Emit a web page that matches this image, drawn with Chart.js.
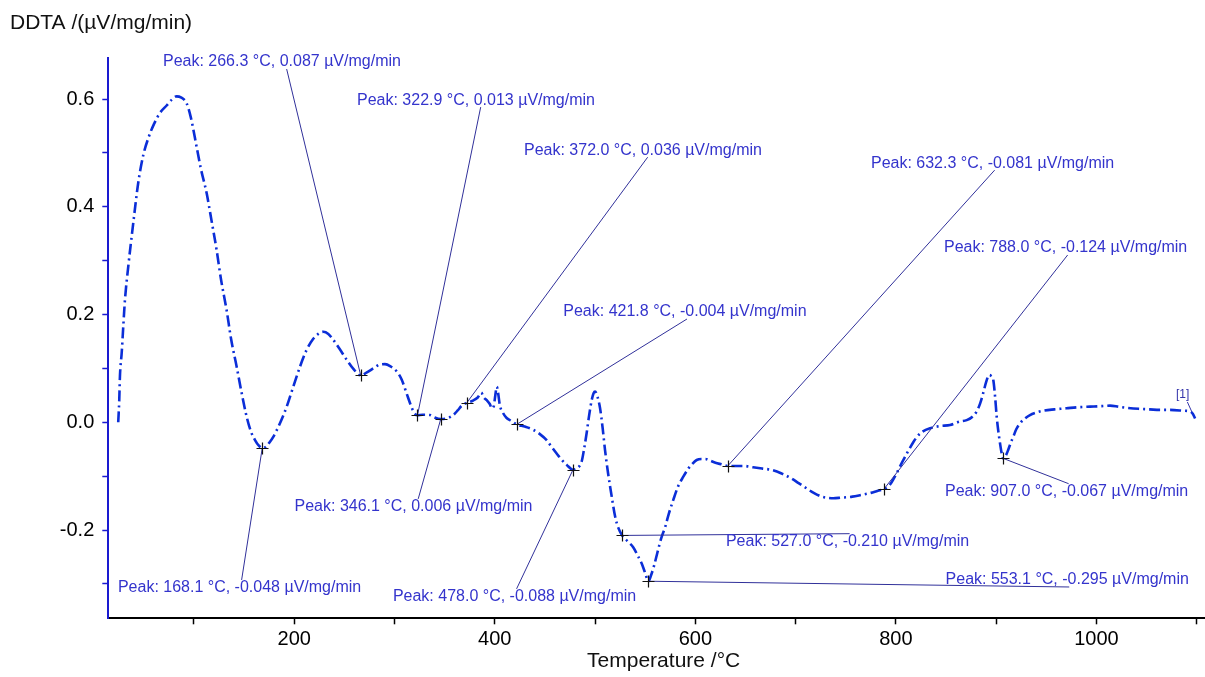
<!DOCTYPE html>
<html><head><meta charset="utf-8">
<script src="https://cdn.jsdelivr.net/npm/chart.js@4.4.0/dist/chart.umd.min.js"></script>
<style>html,body{margin:0;padding:0;background:#fff}#wrap{width:1205px;height:677px}</style>
</head><body><div id="wrap"><canvas id="c" width="1205" height="677"></canvas></div>
<script>
// ---- data ----
const temperature = [24.5,25.5,26.2,28,29.5,31.2,34.5,39.5,44.5,49.5,55,60,66,72.8,78,82.8,87,92.7,97,102.7,107,112.7,117,122.6,127,132.6,137,142.6,147,152.6,157,160.9,164.5,168.1,172,175.5,179.1,185,192.5,198,205.7,212,219,224,229,234,239,245,252.3,259,266.3,272,278.8,285,290.5,296,302,307,312,316,319.5,322.9,328,335.4,340,346.1,352,358.6,363,367,372,378,383,386.5,389,392,395,397,399,400.5,402,403.5,405,408,411.8,416,421.8,430,438.4,445,451.7,456,461.7,466,471.7,478,483,486.6,489,491.6,494,496.6,498.5,500,502,504.9,507.5,509.9,513,516.6,520,523.2,527,532,538,543,546.5,550,553.1,556,559,562,566,569.8,573.5,578,583,588,593,597,601.3,606,610,614.6,620,626,632.3,640,647.8,657.5,667,676.4,686,695.5,703,710.8,718,726,731,737.5,745,756.6,765,775,782,788,794,800,806,812,817,821,826,834,844,854,863,870.6,876,880.5,884,887,890,893,895,897.1,899,900.5,902,903.8,905.5,907,909.5,912,914.5,917,920,923.7,928,933.7,940,947,958,970,982,993.5,1005,1013.5,1022,1030,1042,1053,1063,1073,1086.6,1093.3,1096,1098.3];
const ddta = [0.000,0.040,0.085,0.130,0.177,0.227,0.289,0.370,0.445,0.496,0.530,0.553,0.574,0.588,0.599,0.605,0.603,0.592,0.565,0.511,0.470,0.425,0.380,0.320,0.265,0.208,0.155,0.103,0.060,0.010,-0.018,-0.033,-0.043,-0.048,-0.045,-0.037,-0.027,-0.005,0.029,0.060,0.103,0.133,0.155,0.164,0.168,0.164,0.153,0.137,0.116,0.099,0.087,0.092,0.100,0.107,0.108,0.104,0.095,0.080,0.054,0.033,0.018,0.013,0.014,0.0135,0.009,0.006,0.007,0.0135,0.022,0.031,0.036,0.040,0.046,0.055,0.046,0.041,0.034,0.026,0.030,0.050,0.066,0.052,0.032,0.018,0.008,0.003,-0.004,-0.008,-0.014,-0.022,-0.033,-0.044,-0.058,-0.068,-0.079,-0.088,-0.084,-0.073,-0.050,-0.020,0.012,0.041,0.054,0.057,0.050,0.027,-0.010,-0.051,-0.095,-0.138,-0.175,-0.196,-0.210,-0.220,-0.232,-0.249,-0.262,-0.280,-0.295,-0.283,-0.265,-0.243,-0.215,-0.195,-0.170,-0.144,-0.118,-0.101,-0.086,-0.077,-0.070,-0.068,-0.068,-0.071,-0.075,-0.078,-0.081,-0.081,-0.081,-0.0835,-0.086,-0.0885,-0.095,-0.104,-0.113,-0.1225,-0.131,-0.138,-0.140,-0.141,-0.140,-0.138,-0.135,-0.131,-0.127,-0.124,-0.116,-0.097,-0.075,-0.054,-0.038,-0.027,-0.018,-0.011,-0.007,-0.005,0.001,0.004,0.010,0.020,0.035,0.054,0.075,0.088,0.086,0.0785,0.045,0.010,-0.015,-0.039,-0.058,-0.067,-0.062,-0.051,-0.038,-0.027,-0.013,-0.002,0.006,0.0135,0.018,0.0215,0.024,0.026,0.028,0.029,0.030,0.031,0.029,0.027,0.025,0.024,0.023,0.023,0.0215,0.020,0.016,0.007];

const peakTemps  = [168.1, 266.3, 322.9, 346.1, 372.0, 421.8, 478.0, 527.0, 553.1, 632.3, 788.0, 907.0];
const peakValues = [-0.048, 0.087, 0.013, 0.006, 0.036, -0.004, -0.088, -0.210, -0.295, -0.081, -0.124, -0.067];
// where each peak label sits (left edge in °C, vertical centre in µV/mg/min)
const labelTemps  = [24.2, 69.1, 262.6, 200.3, 429.1, 468.3, 298.4, 630.5, 849.5, 775.1, 847.9, 848.9];
const labelValues = [-0.3075, 0.6687, 0.598, -0.157, 0.505, 0.2047, -0.324, -0.2216, -0.2927, 0.481, 0.3235, -0.1288];

const xTickValues = [100,200,300,400,500,600,700,800,900,1000,1100];
const xTickLabels = ['', '200', '', '400', '', '600', '', '800', '', '1000', ''];
const yTickValues = [-0.3,-0.2,-0.1,0.0,0.1,0.2,0.3,0.4,0.5,0.6];
const yTickLabels = ['', '-0.2', '', '0.0', '', '0.2', '', '0.4', '', '0.6'];

const curveLabel = '[1]';
const curveLabelPos = [1079.3, 0.0507];

const xTitle = 'Temperature /°C';
const yTitle = 'DDTA /(µV/mg/min)';

const FONT = "'Liberation Sans', Arial, sans-serif";

const annotatePlugin = {
  id: 'annotate',
  afterDatasetsDraw(chart) {
    const ctx = chart.ctx, xs = chart.scales.x, ys = chart.scales.y;
    ctx.save();
    ctx.font = '16px ' + FONT;
    ctx.textBaseline = 'middle';
    ctx.textAlign = 'left';
    for (let i = 0; i < peakTemps.length; i++) {
      const T = peakTemps[i], v = peakValues[i];
      const px = xs.getPixelForValue(T), py = ys.getPixelForValue(v);
      const lx = xs.getPixelForValue(labelTemps[i]), ly = ys.getPixelForValue(labelValues[i]);
      const prefix = 'Peak: ' + T.toFixed(1) + ' °C, ';
      const text = prefix + v.toFixed(3) + ' µV/mg/min';
      const ex = lx + ctx.measureText(prefix).width + 7;
      const ey = ly < py ? ly + 7 : ly - 8;
      ctx.strokeStyle = '#30309a';
      ctx.lineWidth = 1;
      ctx.beginPath(); ctx.moveTo(px, py); ctx.lineTo(ex, ey); ctx.stroke();
      ctx.fillStyle = '#3434cc';
      ctx.fillText(text, lx, ly);
    }
    // markers
    ctx.strokeStyle = '#111';
    ctx.lineWidth = 1.2;
    for (let i = 0; i < peakTemps.length; i++) {
      const px = Math.round(xs.getPixelForValue(peakTemps[i])) + 0.5;
      const py = Math.round(ys.getPixelForValue(peakValues[i])) + 0.5;
      ctx.beginPath();
      ctx.moveTo(px - 6, py); ctx.lineTo(px + 6, py);
      ctx.moveTo(px, py - 6); ctx.lineTo(px, py + 6);
      ctx.stroke();
    }
    // curve label [1]
    ctx.font = '12px ' + FONT;
    ctx.fillStyle = '#3333aa';
    const cx = xs.getPixelForValue(curveLabelPos[0]), cy = ys.getPixelForValue(curveLabelPos[1]);
    ctx.fillText(curveLabel, cx, cy);
    const w = ctx.measureText(curveLabel).width;
    const lastX = xs.getPixelForValue(temperature[temperature.length - 2]);
    const lastY = ys.getPixelForValue(ddta[ddta.length - 2]);
    ctx.strokeStyle = '#3333aa'; ctx.lineWidth = 1;
    ctx.beginPath(); ctx.moveTo(cx + w - 2, cy + 7); ctx.lineTo(lastX - 1, lastY - 2); ctx.stroke();
    // axis titles
    ctx.fillStyle = '#111';
    ctx.font = '21px ' + FONT;
    ctx.textAlign = 'left';
    ctx.fillText(yTitle, 10, 23);
    ctx.textAlign = 'center';
    ctx.fillText(xTitle, (chart.chartArea.left + chart.chartArea.right) / 2 + 7, 661);
    ctx.restore();
  }
};

new Chart(document.getElementById('c'), {
  type: 'line',
  data: {
    datasets: [{
      data: temperature.map((t, i) => ({ x: t, y: ddta[i] })),
      borderColor: '#0b2ed8',
      borderWidth: 2.6,
      borderDash: [11, 4, 2, 4],
      pointRadius: 0,
      fill: false,
      cubicInterpolationMode: 'monotone'
    }]
  },
  options: {
    responsive: false,
    animation: false,
    devicePixelRatio: 1,
    layout: { padding: { top: 58.3, right: 0, left: 0, bottom: 0 } },
    plugins: { legend: { display: false }, tooltip: { enabled: false }, title: { display: false } },
    scales: {
      x: {
        type: 'linear', position: 'bottom', min: 14.6, max: 1108.2,
        border: { display: true, color: '#000', width: 2 },
        grid: { drawOnChartArea: false, drawTicks: true, tickLength: 6, tickColor: '#000', tickWidth: 1.5 },
        afterBuildTicks: (axis) => { axis.ticks = xTickValues.map(v => ({ value: v })); },
        afterFit: (axis) => { axis.height = 58.7; },
        ticks: {
          autoSkip: false, maxRotation: 0, padding: 3, color: '#000',
          font: { family: FONT, size: 20 },
          callback: (v) => { const k = xTickValues.indexOf(v); return k >= 0 ? xTickLabels[k] : ''; }
        }
      },
      y: {
        type: 'linear', position: 'left', min: -0.3638, max: 0.6756,
        border: { display: true, color: '#1a1ad0', width: 2 },
        grid: { drawOnChartArea: false, drawTicks: true, tickLength: 6, tickColor: '#1a1ad0', tickWidth: 1.5 },
        afterBuildTicks: (axis) => { axis.ticks = yTickValues.map(v => ({ value: v })); },
        afterFit: (axis) => { axis.width = 108.3; },
        ticks: {
          autoSkip: false, padding: 8, color: '#000',
          font: { family: FONT, size: 20 },
          callback: (v) => { const k = yTickValues.findIndex(t => Math.abs(t - v) < 1e-9); return k >= 0 ? yTickLabels[k] : ''; }
        }
      }
    }
  },
  plugins: [annotatePlugin]
});
</script>
</body></html>
